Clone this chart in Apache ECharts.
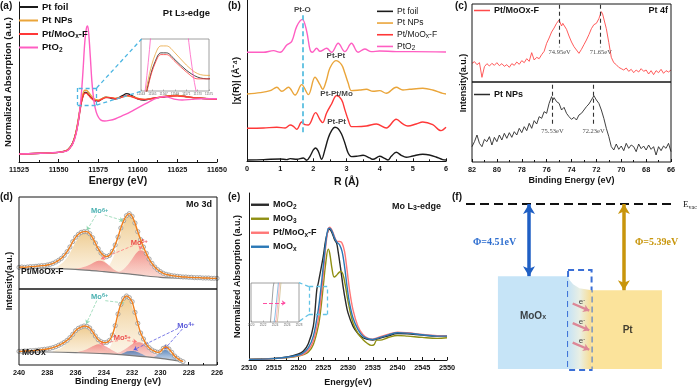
<!DOCTYPE html>
<html><head><meta charset="utf-8">
<script src="https://cdn.jsdelivr.net/npm/echarts@6/dist/echarts.min.js"></script>
<style>html,body{margin:0;padding:0;background:#fff}#c{width:700px;height:388px}</style>
</head><body><div id="c"></div>
<script>
const FONT = "'Liberation Sans', Arial, Helvetica, sans-serif";
const SERIF = "'Liberation Serif', 'Times New Roman', serif";

// ---------------- (a) Pt L3-edge XANES : [energy eV, normalized absorption] ----------------
const aPtFoil = [[11525,0.00],[11535,0.01],[11545,0.02],[11550,0.03],[11555,0.06],[11557,0.11],[11559,0.20],[11561,0.38],[11562.5,0.60],[11563.5,0.78],[11564.5,0.93],[11565.5,1.03],[11566.5,1.08],[11567.5,1.08],[11569,1.04],[11571,0.98],[11573,0.94],[11575,0.93],[11577,0.96],[11580,1.00],[11583,0.98],[11586,0.97],[11590,1.02],[11593,1.06],[11596,1.03],[11600,0.97],[11604,0.95],[11608,0.97],[11612,0.99],[11616,1.00],[11620,1.02],[11625,1.03],[11630,1.01],[11635,0.99],[11640,0.98],[11645,0.97],[11650,0.97]];
const aPtNPs = [[11525,0.00],[11535,0.01],[11545,0.02],[11550,0.03],[11555,0.06],[11557,0.11],[11559,0.20],[11561,0.39],[11562.5,0.62],[11563.5,0.80],[11564.5,0.96],[11565.5,1.07],[11566.5,1.12],[11567.5,1.12],[11569,1.08],[11571,1.01],[11573,0.96],[11575,0.95],[11577,0.97],[11580,1.00],[11583,0.99],[11586,0.98],[11590,1.00],[11593,1.02],[11596,1.01],[11600,0.98],[11604,0.96],[11608,0.97],[11612,0.99],[11616,1.01],[11620,1.02],[11625,1.03],[11630,1.01],[11635,0.99],[11640,0.98],[11645,0.97],[11650,0.97]];
const aPtMoOxF = [[11525,0.00],[11535,0.01],[11545,0.02],[11550,0.03],[11555,0.06],[11557,0.10],[11559,0.19],[11561,0.37],[11562.5,0.58],[11563.5,0.76],[11564.5,0.92],[11565.5,1.02],[11566.5,1.07],[11567.5,1.07],[11569,1.03],[11571,0.97],[11573,0.93],[11575,0.93],[11577,0.96],[11580,0.99],[11583,0.99],[11586,0.97],[11590,1.00],[11593,1.03],[11596,1.01],[11600,0.97],[11604,0.96],[11608,0.97],[11612,0.99],[11616,1.00],[11620,1.02],[11625,1.02],[11630,1.01],[11635,0.99],[11640,0.98],[11645,0.97],[11650,0.96]];
const aPtO2 = [[11525,0.00],[11535,0.01],[11545,0.02],[11550,0.03],[11555,0.05],[11557,0.10],[11559,0.18],[11561,0.35],[11562.5,0.58],[11563.5,0.80],[11564.5,1.10],[11565.5,1.50],[11566.5,1.95],[11567.5,2.20],[11568.3,2.25],[11569,2.12],[11570,1.72],[11571,1.28],[11572,1.00],[11573,0.82],[11574.5,0.68],[11576.5,0.60],[11579,0.58],[11582,0.59],[11586,0.62],[11590,0.67],[11594,0.72],[11598,0.78],[11602,0.84],[11606,0.90],[11610,0.96],[11614,1.00],[11617,1.01],[11620,0.99],[11624,0.96],[11628,0.95],[11634,0.96],[11640,0.97],[11645,0.97],[11650,0.97]];

// ---------------- (b) FT-EXAFS : [R Å, |chi(R)| offset] ----------------
const bPtFoil = [[0,0.4],[0.5,0.5],[1.0,0.7],[1.2,0.5],[1.3,0.8],[1.5,0.6],[1.7,1.0],[1.8,0.3],[1.9,1.5],[2.0,3.4],[2.07,4.0],[2.15,3.0],[2.25,0.6],[2.35,3.5],[2.45,7.0],[2.55,9.2],[2.65,10.2],[2.75,9.8],[2.85,8.2],[2.95,5.5],[3.05,2.5],[3.15,1.4],[3.3,1.5],[3.5,1.8],[3.7,1.0],[3.8,0.6],[4.0,1.5],[4.15,0.9],[4.25,0.4],[4.35,1.5],[4.5,2.7],[4.65,1.8],[4.8,1.2],[5.0,1.6],[5.3,2.1],[5.5,1.9],[5.7,1.3],[5.9,0.5],[6.0,0.4]];
const bPtNPs = [[0,20.2],[0.4,20.6],[0.7,21.2],[0.9,22.2],[1.05,21.0],[1.25,22.2],[1.45,19.9],[1.65,23.0],[1.85,20.0],[2.05,25.2],[2.2,23.0],[2.28,21.6],[2.4,24.5],[2.5,28.0],[2.68,30.2],[2.85,29.0],[2.95,26.5],[3.05,23.5],[3.15,21.2],[3.4,21.4],[3.6,21.6],[3.8,21.0],[4.0,21.2],[4.2,20.4],[4.5,22.2],[4.7,21.4],[4.9,21.6],[5.3,21.9],[5.6,21.4],[5.9,20.4],[6.0,20.2]];
const bPtMoOxF = [[0,9.9],[0.5,10.0],[0.9,10.2],[1.15,10.0],[1.3,10.9],[1.4,10.5],[1.5,9.6],[1.65,11.8],[1.75,11.0],[1.85,10.9],[2.07,14.6],[2.2,12.5],[2.28,11.6],[2.4,14.5],[2.55,17.2],[2.7,19.7],[2.85,18.5],[2.95,15.5],[3.05,12.5],[3.15,10.4],[3.3,10.4],[3.6,10.6],[3.9,11.2],[4.2,10.0],[4.5,12.6],[4.7,11.2],[4.85,10.6],[5.1,11.2],[5.3,11.8],[5.6,11.0],[5.85,9.2],[6.0,10.2]];
const bPtO2 = [[0,32.7],[0.5,32.7],[0.8,33.2],[1.0,32.7],[1.2,34.9],[1.35,36.0],[1.5,40.5],[1.67,42.6],[1.8,39.0],[1.9,33.5],[1.97,32.7],[2.1,33.9],[2.2,33.0],[2.4,33.9],[2.55,32.7],[2.75,35.4],[2.95,32.9],[3.15,35.4],[3.35,32.7],[3.55,33.7],[3.75,32.9],[4.0,33.1],[4.5,32.9],[5.0,32.9],[6.0,32.8]];
const bPeakLabels = [[1.67,45.4,'Pt-O'],[2.68,31.6,'Pt-Pt'],[2.70,20.4,'Pt-Pt/Mo'],[2.70,11.8,'Pt-Pt']];
const bPtOPosition = 1.67;

// ---------------- (c) Pt 4f XPS : [binding energy eV, counts a.u.] ----------------
const cPtMoOxF = [[82.0,56],[81.8,61],[81.6,52],[81.4,58],[81.2,14],[81.0,46],[80.8,55],[80.6,48],[80.4,56],[80.2,50],[80.0,58],[79.8,49],[79.6,55],[79.4,47],[79.2,52],[79.0,44],[78.8,55],[78.6,50],[78.4,60],[78.2,53],[78.0,64],[77.8,58],[77.6,70],[77.4,62],[77.2,88],[77.0,66],[76.8,74],[76.6,70],[76.4,82],[76.2,92],[76.0,116],[75.8,132],[75.6,150],[75.4,162],[75.2,176],[75.0,186],[74.9,180],[74.8,168],[74.7,176],[74.6,170],[74.4,158],[74.2,138],[74.0,120],[73.8,106],[73.6,96],[73.4,86],[73.2,98],[73.0,112],[72.8,126],[72.6,142],[72.4,160],[72.2,172],[72.0,176],[71.8,190],[71.6,211],[71.5,204],[71.4,200],[71.2,160],[71.0,118],[70.8,74],[70.6,58],[70.4,52],[70.2,44],[70.0,40],[69.8,36],[69.6,42],[69.4,32],[69.2,38],[69.0,28],[68.8,36],[68.6,30],[68.4,40],[68.2,32],[68.0,36],[67.8,24],[67.6,34],[67.4,22],[67.2,34],[67.0,28],[66.8,38],[66.6,26],[66.4,34],[66.2,30],[66.0,36]];
const cPtNPs = [[82.0,46],[81.8,61],[81.6,81],[81.4,56],[81.2,46],[81.0,68],[80.8,61],[80.6,76],[80.4,51],[80.2,74],[80.0,61],[79.8,81],[79.6,66],[79.4,86],[79.2,71],[79.0,88],[78.8,74],[78.6,91],[78.4,81],[78.2,101],[78.0,88],[77.8,106],[77.6,94],[77.4,116],[77.2,101],[77.0,124],[76.8,114],[76.6,136],[76.4,131],[76.2,151],[76.0,146],[75.8,176],[75.6,196],[75.5,186],[75.4,193],[75.2,181],[75.0,176],[74.8,156],[74.6,164],[74.4,146],[74.2,136],[74.0,128],[73.8,134],[73.6,126],[73.4,141],[73.2,146],[73.0,156],[72.8,166],[72.6,174],[72.4,186],[72.2,199],[72.0,186],[71.8,176],[71.6,156],[71.4,131],[71.2,101],[71.0,76],[70.8,46],[70.6,36],[70.4,54],[70.2,38],[70.0,48],[69.8,34],[69.6,56],[69.4,41],[69.2,51],[69.0,46],[68.8,31],[68.6,54],[68.4,40],[68.2,48],[68.0,36],[67.8,51],[67.6,38],[67.4,46],[67.2,21],[67.0,46],[66.8,34],[66.6,48],[66.4,41],[66.2,56],[66.0,31]];
const cPeaksTop = [74.95, 71.65];
const cPeaksBottom = [75.53, 72.23];

// ---------------- (d) Mo 3d XPS : [binding energy eV, counts a.u.] ----------------
const dTopExp = [[240.0,65],[239.8,66],[239.6,65],[239.4,66],[239.2,67],[239.0,67],[238.8,68],[238.6,69],[238.4,70],[238.2,70],[238.0,72],[237.8,74],[237.6,77],[237.4,81],[237.2,86],[237.0,92],[236.8,101],[236.6,112],[236.4,126],[236.2,142],[236.0,155],[235.8,164],[235.6,170],[235.4,172],[235.2,172],[235.0,166],[234.8,154],[234.6,138],[234.4,121],[234.2,108],[234.0,100],[233.8,97],[233.6,101],[233.4,113],[233.2,132],[233.0,156],[232.8,183],[232.6,205],[232.4,220],[232.2,226],[232.0,218],[231.8,198],[231.6,172],[231.4,148],[231.2,126],[231.0,107],[230.8,90],[230.6,77],[230.4,66],[230.2,58],[230.0,52],[229.8,47],[229.6,44],[229.4,42],[229.2,40],[229.0,39],[228.8,38],[228.6,37],[228.4,36],[228.2,36],[228.0,35],[227.8,35],[227.6,34],[227.4,34],[227.2,34],[227.0,33],[226.8,33],[226.6,33],[226.4,32],[226.2,32],[226.0,32]];
const dTopBg = [[240,64],[238,62],[236,59],[235,56],[234,52],[233,48],[232,44],[231,39],[230,35],[229,33],[228,32],[227,32],[226,31]];
const dTopMo6a = [[237.6,62],[237.2,70],[236.8,84],[236.4,108],[236.0,140],[235.7,160],[235.4,169],[235.2,170],[234.9,160],[234.6,136],[234.2,102],[233.8,76],[233.4,60],[233.0,52],[232.6,46]];
const dTopMo6b = [[234.4,52],[234.0,56],[233.6,72],[233.2,110],[232.9,155],[232.6,196],[232.4,214],[232.2,221],[232.0,214],[231.7,186],[231.4,144],[231.0,98],[230.6,66],[230.2,48],[229.8,40],[229.4,36]];
const dTopMo5a = [[236.2,60],[235.6,64],[235.0,73],[234.6,82],[234.3,85],[234.0,82],[233.6,70],[233.2,56],[232.8,49]];
const dTopMo5b = [[233.4,48],[232.8,54],[232.4,68],[232.0,90],[231.7,108],[231.4,116],[231.1,110],[230.8,92],[230.4,64],[230.0,45],[229.6,37]];
const dLowExp = [[240.0,41],[239.8,41],[239.6,42],[239.4,42],[239.2,43],[239.0,43],[238.8,44],[238.6,45],[238.4,46],[238.2,47],[238.0,48],[237.8,50],[237.6,52],[237.4,55],[237.2,59],[237.0,63],[236.8,68],[236.6,74],[236.4,82],[236.2,92],[236.0,103],[235.8,110],[235.6,114],[235.4,117],[235.2,116],[235.0,111],[234.8,100],[234.6,87],[234.4,76],[234.2,70],[234.0,67],[233.8,68],[233.6,74],[233.4,90],[233.2,118],[233.0,153],[232.8,182],[232.6,200],[232.4,207],[232.2,202],[232.0,190],[231.8,158],[231.6,125],[231.4,96],[231.2,78],[231.0,62],[230.8,52],[230.6,45],[230.4,41],[230.2,38],[230.0,40],[229.8,50],[229.6,54],[229.4,48],[229.2,38],[229.0,27],[228.8,20],[228.6,14],[228.4,10]];
const dLowBg = [[240,40],[238,39],[236,37],[234,34],[232,28],[230,20],[229,14],[228.4,10]];
const dLowMo6a = [[237.6,42],[237.0,52],[236.6,66],[236.2,86],[235.8,104],[235.4,112],[235.0,104],[234.6,80],[234.2,58],[233.8,44],[233.4,37],[233.0,33]];
const dLowMo6b = [[234.0,35],[233.6,50],[233.2,100],[232.9,158],[232.6,194],[232.4,204],[232.2,197],[231.9,162],[231.6,114],[231.3,74],[231.0,50],[230.6,33],[230.2,25]];
const dLowMo5a = [[236.0,38],[235.4,44],[235.0,52],[234.6,60],[234.4,62],[234.1,60],[233.7,52],[233.3,42],[233.0,35]];
const dLowMo5b = [[233.2,34],[232.8,40],[232.4,50],[232.0,62],[231.6,68],[231.2,64],[230.8,50],[230.4,34],[230.0,24]];
const dLowMo4a = [[233.0,30],[232.6,36],[232.3,41],[232.0,42],[231.7,40],[231.3,33],[231.0,26]];
const dLowMo4b = [[230.6,22],[230.3,28],[230.0,36],[229.8,43],[229.7,45],[229.5,43],[229.3,35],[229.0,24],[228.8,17]];

// ---------------- (e) Mo L3-edge XANES : [energy eV, normalized absorption] ----------------
const eMoO2 = [[2510,0.02],[2515,0.05],[2518,0.10],[2520,0.18],[2521,0.27],[2522,0.50],[2523,1.02],[2523.7,2.12],[2524,2.32],[2525,3.12],[2525.5,3.62],[2526,3.90],[2526.3,3.94],[2526.8,3.82],[2527.3,3.62],[2527.7,3.52],[2528,3.27],[2528.5,2.77],[2529,2.22],[2529.5,1.77],[2530,1.42],[2531,1.02],[2532,0.80],[2533,0.67],[2534,0.62],[2535,0.60],[2536,0.64],[2538,0.72],[2540,0.80],[2542,0.79],[2545,0.75],[2548,0.72],[2550,0.72]];
const eMoO3 = [[2510,0.02],[2515,0.04],[2518,0.07],[2520,0.12],[2521,0.16],[2522,0.24],[2523,0.47],[2524,1.02],[2524.5,1.52],[2525,2.22],[2525.5,2.92],[2526,3.34],[2526.3,3.22],[2526.8,2.72],[2527.2,2.50],[2527.6,2.54],[2528.2,2.64],[2528.6,2.67],[2529,2.57],[2529.5,2.22],[2530,1.77],[2531,1.12],[2532,0.80],[2533,0.62],[2534,0.49],[2534.7,0.44],[2535.3,0.47],[2535.8,0.60],[2536.5,0.60],[2538,0.67],[2540,0.74],[2542,0.72],[2545,0.68],[2548,0.65],[2550,0.67]];
const ePtMoOxF = [[2510,0.02],[2515,0.04],[2518,0.08],[2520,0.13],[2521,0.18],[2522,0.30],[2523,0.57],[2524,1.22],[2524.5,1.82],[2525,2.57],[2525.5,3.42],[2526,3.94],[2526.3,4.00],[2526.8,3.90],[2527.3,3.70],[2527.8,3.57],[2528.3,3.57],[2528.8,3.52],[2529.3,3.27],[2529.8,2.72],[2530.3,2.12],[2531,1.52],[2532,1.02],[2533,0.77],[2534,0.66],[2535,0.63],[2536,0.67],[2538,0.77],[2540,0.84],[2542,0.82],[2545,0.77],[2548,0.73],[2550,0.72]];
const eMoOx = [[2510,0.02],[2515,0.04],[2518,0.09],[2520,0.15],[2521,0.22],[2522,0.37],[2523,0.72],[2524,1.52],[2524.5,2.12],[2525,2.82],[2525.5,3.52],[2526,3.96],[2526.3,3.97],[2526.8,3.87],[2527.3,3.67],[2527.8,3.54],[2528.3,3.47],[2528.8,3.27],[2529.3,2.82],[2529.8,2.22],[2530.3,1.72],[2531,1.27],[2532,0.92],[2533,0.72],[2534,0.64],[2535,0.62],[2536,0.66],[2538,0.75],[2540,0.82],[2542,0.81],[2545,0.76],[2548,0.72],[2550,0.72]];

// ---------------- (f) band diagram : work functions (eV below vacuum level) ----------------
const fMaterials = ['MoOx', 'Pt'];
const fWorkFunction = [4.51, 5.39];
const fBandBottom = -10.31;
const fInterfaceShape = [[4.86,-4.51],[4.93,-4.75],[5.1,-5.02],[5.4,-5.26],[5.98,-5.39],[5.98,-10.31],[4.86,-10.31]];
const fElectrons = [[5.52,-6.12],[5.52,-7.34],[5.52,-8.56]];

// ======================= helpers =======================
const BLACK = '#141414';
const plainNum = v => String(v);
function xAx(gi, min, max, interval, name, gap, size, extra) {
  return Object.assign({
    type: 'value', gridIndex: gi, min, max, interval,
    name, nameLocation: 'middle', nameGap: gap,
    nameTextStyle: {fontFamily: FONT, fontWeight: 'bold', fontSize: size, color: BLACK},
    axisLine: {show: true, onZero: false, lineStyle: {color: BLACK, width: 1}},
    axisTick: {show: true, inside: true, length: 3, lineStyle: {color: BLACK}},
    minorTick: {show: true, splitNumber: 2, length: 2, lineStyle: {color: BLACK}},
    axisLabel: {show: true, fontFamily: FONT, fontWeight: 'bold', fontSize: 7.3, color: BLACK, margin: 4, formatter: plainNum},
    splitLine: {show: false}
  }, extra || {});
}
function yAx(gi, min, max, name, gap, size, extra) {
  return Object.assign({
    type: 'value', gridIndex: gi, min, max,
    name, nameLocation: 'middle', nameGap: gap,
    nameTextStyle: {fontFamily: FONT, fontWeight: 'bold', fontSize: size, color: BLACK},
    axisLine: {show: true, onZero: false, lineStyle: {color: BLACK, width: 1}},
    axisTick: {show: false}, axisLabel: {show: false}, splitLine: {show: false}
  }, extra || {});
}
function hiddenAx(gi, min, max, extra) {
  return Object.assign({type: 'value', gridIndex: gi, min, max, show: false, splitLine: {show: false}}, extra || {});
}
function mkLine(name, gi, data, color, width, extra) {
  return Object.assign({
    type: 'line', name, xAxisIndex: gi, yAxisIndex: gi, data,
    symbol: 'none', showSymbol: false, smooth: 0.35,
    lineStyle: {color, width}, itemStyle: {color},
    emphasis: {disabled: true}, animation: false, silent: true
  }, extra || {});
}
function seg(p, q) { return [{coord: p}, {coord: q}]; }
function boxSegs(x0, x1, y0, y1) {
  return [seg([x0,y0],[x1,y0]), seg([x1,y0],[x1,y1]), seg([x1,y1],[x0,y1]), seg([x0,y1],[x0,y0])];
}
function textSeries(gi, items, z) {
  return {
    type: 'scatter', xAxisIndex: gi, yAxisIndex: gi, symbolSize: 0.1, silent: true, animation: false, z: z || 8,
    itemStyle: {color: 'rgba(0,0,0,0)'},
    data: items.map(it => ({value: [it[0], it[1]], label: Object.assign({show: true, position: 'inside', formatter: it[2]}, it[3] || {})})),
    label: {show: true, fontFamily: FONT, fontWeight: 'bold', fontSize: 8, color: BLACK}
  };
}
const SUB = {fontFamily: FONT, fontWeight: 'bold', fontSize: 6.5, verticalAlign: 'bottom', lineHeight: 8, color: BLACK};
const SUBN = Object.assign({}, SUB, {fontWeight: 'normal'});
const SUP = {fontFamily: FONT, fontWeight: 'bold', fontSize: 5.5, verticalAlign: 'top', lineHeight: 8};

const LBL = {
  'a_Pt foil': 'Pt foil', 'a_Pt NPs': 'Pt NPs', 'a_Pt/MoOx-F': 'Pt/MoO{s|x}-F', 'a_PtO2': 'PtO{s|2}',
  'b_Pt foil': 'Pt foil', 'b_Pt NPs': 'Pt NPs', 'b_Pt/MoOx-F': 'Pt/MoO{s|x}-F', 'b_PtO2': 'PtO{s|2}',
  'c_Pt/MoOx-F': 'Pt/MoOx-F', 'c_Pt NPs': 'Pt NPs',
  'e_MoO2': 'MoO{s|2}', 'e_MoO3': 'MoO{s|3}', 'e_Pt/MoOx-F': 'Pt/MoO{s|x}-F', 'e_MoOx': 'MoO{s|x}'
};
const fmt = n => LBL[n];

// colors
const C_FOIL = '#1b1b1b', C_NPS = '#eaa53a', C_PTMO = '#ff3838', C_PTO2 = '#ff5ec2';
const C_MOO2 = '#2a2a2a', C_MOO3 = '#8f8f12', C_EPTMO = '#ff7777', C_MOOX = '#2a78b6';

const grids = [
  {left: 19, top: 2, width: 198, height: 160},           // 0 a
  {left: 141, top: 39, width: 68, height: 52, show: true, borderColor: '#888', borderWidth: 0.8, backgroundColor: '#fff', z: 0}, // 1 a inset
  {left: 247, top: 0, width: 199, height: 161.3},        // 2 b
  {left: 472, top: 4, width: 199, height: 78, show: true, borderColor: BLACK, borderWidth: 1, z: 10},   // 3 c top
  {left: 472, top: 82, width: 199, height: 80, show: true, borderColor: BLACK, borderWidth: 1, z: 10},  // 4 c bottom
  {left: 19, top: 197, width: 198, height: 92, show: true, borderColor: BLACK, borderWidth: 1, z: 10},  // 5 d top
  {left: 19, top: 289, width: 198, height: 76, show: true, borderColor: BLACK, borderWidth: 1, z: 10},  // 6 d bottom
  {left: 249, top: 193, width: 198, height: 167.7},      // 7 e
  {left: 251, top: 283, width: 48, height: 39, show: true, borderColor: '#888', borderWidth: 0.8, backgroundColor: '#fff', z: 0}, // 8 e inset
  {left: 466, top: 190, width: 210, height: 190},        // 9 f
  {left: 472, top: 4, width: 199, height: 158},          // 10 c name holder
  {left: 19, top: 197, width: 198, height: 168}          // 11 d name holder
];

const insetLabel = {show: true, fontSize: 3, color: '#666', margin: 1.5, fontWeight: 'normal', formatter: plainNum};
const insetTick = {show: true, inside: true, length: 1.5, lineStyle: {color: '#888', width: 0.6}};
const xAxes = [
  xAx(0, 11525, 11650, 25, 'Energy (eV)', 14, 10.5),
  xAx(1, 11563, 11575, 2, '', 0, 5, {axisLine: {show: false}, axisTick: insetTick, minorTick: {show: false}, axisLabel: insetLabel}),
  xAx(2, 0, 6, 1, 'R (Å)', 15, 10.5),
  hiddenAx(3, 66, 82, {inverse: true}),
  xAx(4, 66, 82, 2, 'Binding Energy (eV)', 14, 9, {inverse: true, axisLine: {show: false}}),
  hiddenAx(5, 226, 240, {inverse: true}),
  xAx(6, 226, 240, 2, 'Binding Energy (eV)', 12, 9, {inverse: true, axisLine: {show: false}}),
  xAx(7, 2510, 2550, 5, 'Energy(eV)', 18, 9),
  xAx(8, 2520, 2528, 2, '', 0, 5, {axisLine: {show: false}, axisTick: insetTick, minorTick: {show: false}, axisLabel: insetLabel}),
  hiddenAx(9, 0, 10),
  hiddenAx(10, 0, 1),
  hiddenAx(11, 0, 1)
];
const yAxes = [
  yAx(0, -0.14, 2.67, 'Normalized Absorption (a.u.)', 6, 9.5),
  hiddenAx(1, 0.86, 1.16),
  yAx(2, 0, 48.4, '|χ(R)| (Å⁻⁴)', 6, 9.5),
  hiddenAx(3, 0, 234),
  hiddenAx(4, 0, 240),
  hiddenAx(5, 0, 276),
  hiddenAx(6, 0, 228),
  yAx(7, 0, 5.03, 'Normalized Absorption (a.u.)', 7, 9),
  hiddenAx(8, 1.4, 2.2),
  hiddenAx(9, -11, 0.875),
  yAx(10, 0, 1, 'Intensity(a.u.)', 4, 9, {axisLine: {show: false}}),
  yAx(11, 0, 1, 'Intensity(a.u.)', 5, 9, {axisLine: {show: false}})
];

const series = [];
// ---- (a)
const cyan = '#4cb6e2';
series.push(mkLine('a_Pt foil', 0, aPtFoil, C_FOIL, 1.4));
series.push(mkLine('a_Pt NPs', 0, aPtNPs, C_NPS, 1.4));
series.push(mkLine('a_Pt/MoOx-F', 0, aPtMoOxF, C_PTMO, 1.4));
series.push(mkLine('a_PtO2', 0, aPtO2, C_PTO2, 1.4, {
  markLine: {silent: true, symbol: 'none', label: {show: false}, animation: false,
    lineStyle: {color: cyan, type: [4, 3], width: 1.3},
    data: boxSegs(11562, 11574, 0.86, 1.16).concat([seg([11574,1.16],[11602.4,2.02]), seg([11574,0.86],[11602.4,1.105])])}
}));
series.push(mkLine('ai_foil', 1, aPtFoil, C_FOIL, 0.8, {z: 3}));
series.push(mkLine('ai_nps', 1, aPtNPs, C_NPS, 0.8, {z: 3}));
series.push(mkLine('ai_ptmo', 1, aPtMoOxF, C_PTMO, 0.8, {z: 3}));
series.push(mkLine('ai_pto2', 1, aPtO2, C_PTO2, 0.8, {z: 3}));

// ---- (b)
series.push(mkLine('b_Pt foil', 2, bPtFoil, C_FOIL, 1.4));
series.push(mkLine('b_Pt NPs', 2, bPtNPs, C_NPS, 1.4));
series.push(mkLine('b_Pt/MoOx-F', 2, bPtMoOxF, C_PTMO, 1.4));
series.push(mkLine('b_PtO2', 2, bPtO2, C_PTO2, 1.4, {
  markLine: {silent: true, symbol: 'none', label: {show: false}, animation: false,
    lineStyle: {color: '#5bbfe0', type: [5, 3], width: 1.8},
    data: [seg([bPtOPosition, 43.8],[bPtOPosition, 8.6])]}
}));
series.push(textSeries(2, bPeakLabels.map(p => [p[0], p[1], p[2]]), 8));

// ---- (c)
series.push(mkLine('c_Pt/MoOx-F', 3, cPtMoOxF, '#ff4a4a', 0.9, {smooth: false,
  markLine: {silent: true, symbol: 'none', label: {show: false}, animation: false,
    lineStyle: {color: '#333', type: [4, 3], width: 1.1},
    data: cPeaksTop.map(v => seg([v, 232],[v, 104]))}
}));
series.push(mkLine('c_Pt NPs', 4, cPtNPs, '#2b2b2b', 0.9, {smooth: false,
  markLine: {silent: true, symbol: 'none', label: {show: false}, animation: false,
    lineStyle: {color: '#333', type: [4, 3], width: 1.1},
    data: cPeaksBottom.map(v => seg([v, 232],[v, 108]))}
}));
const serifLbl = {fontFamily: SERIF, fontWeight: 'normal', fontSize: 6.5, color: BLACK};
series.push(textSeries(3, cPeaksTop.map(v => [v, 89, v.toFixed(2) + 'eV', serifLbl])));
series.push(textSeries(4, cPeaksBottom.map(v => [v, 92, v.toFixed(2) + 'eV', serifLbl])));

// ---- (d)
function grad(c0, c1) { return new echarts.graphic.LinearGradient(0, 0, 0, 1, [{offset: 0, color: c0}, {offset: 1, color: c1}]); }
const TAN = () => grad('rgba(236,196,128,0.85)', 'rgba(250,236,212,0.35)');
const RED = () => grad('rgba(240,120,120,0.75)', 'rgba(252,215,215,0.35)');
const BLU = () => grad('rgba(72,122,182,0.85)', 'rgba(190,208,232,0.45)');
function comp(gi, data, fill) {
  return {type: 'line', xAxisIndex: gi, yAxisIndex: gi, data, symbol: 'none', smooth: 0.4, silent: true, animation: false,
    lineStyle: {width: 0}, areaStyle: {color: fill, opacity: 1}, z: 2};
}
function bgSeries(gi, data, arrows) {
  return {type: 'line', xAxisIndex: gi, yAxisIndex: gi, data, symbol: 'none', smooth: 0.3, silent: true, animation: false,
    lineStyle: {color: '#7a7a7a', width: 1.1}, areaStyle: {color: '#ffffff', opacity: 1}, z: 3,
    markLine: {silent: true, animation: false, symbol: ['none', 'arrow'], symbolSize: 4, label: {show: false}, data: arrows}};
}
function expSeries(gi, data) {
  return [
    {type: 'scatter', xAxisIndex: gi, yAxisIndex: gi, data, symbol: 'circle', symbolSize: 4.2, silent: true, animation: false,
      itemStyle: {color: '#f4f4f4', borderColor: '#8c8c8c', borderWidth: 0.9}, z: 4},
    {type: 'line', xAxisIndex: gi, yAxisIndex: gi, data, symbol: 'none', smooth: 0.3, silent: true, animation: false,
      lineStyle: {color: '#f07f1c', width: 1.4}, z: 5}
  ];
}
function arrow(p, q, color) { return [{coord: p, lineStyle: {color, width: 0.8}}, {coord: q}]; }
const TEAL = '#1a9c9c', TEALL = '#8fd6b0', REDT = '#e8262a', REDL = '#ff7a7a', BLUT = '#3131d0';
series.push(comp(5, dTopMo6a, TAN()), comp(5, dTopMo6b, TAN()), comp(5, dTopMo5a, RED()), comp(5, dTopMo5b, RED()));
series.push(bgSeries(5, dTopBg, [
  arrow([234.55, 222],[235.2, 176], TEALL), arrow([233.95, 222],[232.62, 205], TEALL),
  arrow([231.95, 130],[234.2, 90], REDL), arrow([231.4, 127],[231.45, 118], REDL)
]));
series.push(...expSeries(5, dTopExp));
series.push(textSeries(5, [
  [234.3, 234, 'Mo{sup|6+}', {color: TEAL, fontSize: 7.5, rich: {sup: Object.assign({}, SUP, {color: TEAL})}}],
  [231.5, 139, 'Mo{sup|5+}', {color: REDT, fontSize: 7.5, rich: {sup: Object.assign({}, SUP, {color: REDT})}}]
]));
series.push(comp(6, dLowMo6a, TAN()), comp(6, dLowMo6b, TAN()), comp(6, dLowMo5a, RED()), comp(6, dLowMo5b, RED()), comp(6, dLowMo4a, BLU()), comp(6, dLowMo4b, BLU()));
series.push(bgSeries(6, dLowBg, [
  arrow([234.5, 193],[235.25, 123], TEALL), arrow([233.9, 193],[232.55, 186], TEALL),
  arrow([233.0, 73],[234.3, 64], REDL), arrow([232.35, 73],[231.65, 70], REDL),
  arrow([228.75, 110],[231.9, 45], '#5a5ae0'), arrow([228.45, 108],[229.7, 48], '#5a5ae0')
]));
series.push(...expSeries(6, dLowExp));
series.push(textSeries(6, [
  [234.3, 205, 'Mo{sup|6+}', {color: TEAL, fontSize: 7.5, rich: {sup: Object.assign({}, SUP, {color: TEAL})}}],
  [232.7, 80, 'Mo{sup|5+}', {color: REDT, fontSize: 7.5, rich: {sup: Object.assign({}, SUP, {color: REDT})}}],
  [228.2, 118, 'Mo{sup|4+}', {color: BLUT, fontSize: 7.5, rich: {sup: Object.assign({}, SUP, {color: BLUT})}}]
]));

// ---- (e)
series.push(mkLine('e_MoO2', 7, eMoO2, C_MOO2, 1.4));
series.push(mkLine('e_MoO3', 7, eMoO3, C_MOO3, 1.4));
series.push(mkLine('e_Pt/MoOx-F', 7, ePtMoOxF, C_EPTMO, 1.4));
series.push(mkLine('e_MoOx', 7, eMoOx, C_MOOX, 1.4, {
  markLine: {silent: true, symbol: 'none', label: {show: false}, animation: false,
    lineStyle: {color: '#62c3e6', type: [4, 3], width: 1.3},
    data: boxSegs(2522.1, 2525.8, 1.37, 2.21).concat([seg([2522.1, 2.21],[2520.1, 2.33]), seg([2522.1, 1.37],[2520.1, 1.16])])}
}));
series.push(mkLine('ei_moo2', 8, eMoO2, '#777', 0.7, {smooth: false, z: 3}));
series.push(mkLine('ei_moo3', 8, eMoO3, '#c9b27a', 0.7, {smooth: false, z: 3}));
series.push(mkLine('ei_ptmo', 8, ePtMoOxF, '#ff9a9a', 0.7, {smooth: false, z: 3}));
series.push(mkLine('ei_moox', 8, eMoOx, '#5aa0d8', 0.7, {smooth: false, z: 3,
  markLine: {silent: true, symbol: ['none', 'arrow'], symbolSize: 4, label: {show: false}, animation: false,
    lineStyle: {color: '#ff4fa3', width: 1}, data: [seg([2522, 1.79],[2525.8, 1.79])]}
}));

// ---- (f)
series.push({
  type: 'custom', xAxisIndex: 9, yAxisIndex: 9, data: [0], silent: true, animation: false, z: 2,
  renderItem: (params, api) => ({
    type: 'polygon', shape: {points: fInterfaceShape.map(p => api.coord(p))},
    style: {fill: new echarts.graphic.LinearGradient(0, 0, 1, 0, [
      {offset: 0, color: '#c6e3f6'}, {offset: 0.5, color: '#e9efe4'}, {offset: 1, color: '#f9dc8e'}])}
  })
});
series.push({
  type: 'line', xAxisIndex: 9, yAxisIndex: 9, data: [[0, 0], [10, 0]], symbol: 'none', silent: true, animation: false, z: 3,
  lineStyle: {color: '#111', width: 2.2, type: [9, 5]},
  markArea: {silent: true, animation: false, data: [
    [{coord: [1.52, -fWorkFunction[0]], itemStyle: {color: '#c6e4f7'}}, {coord: [4.86, fBandBottom]}],
    [{coord: [5.98, -fWorkFunction[1]], itemStyle: {color: '#fbe39b'}}, {coord: [9.33, fBandBottom]}]
  ]},
  markLine: {silent: true, animation: false, symbol: ['arrow', 'arrow'], symbolSize: [9, 10], label: {show: false}, data: [
    [{coord: [3.0, 0], lineStyle: {color: '#1f5fc4', width: 3.5, type: 'solid'}}, {coord: [3.0, -fWorkFunction[0]]}],
    [{coord: [7.52, 0], lineStyle: {color: '#c8950c', width: 3.5, type: 'solid'}}, {coord: [7.52, -fWorkFunction[1]]}]
  ]}
});
series.push({
  type: 'line', xAxisIndex: 9, yAxisIndex: 9, data: [], symbol: 'none', silent: true, animation: false, z: 6,
  markArea: {silent: true, animation: false, data: [
    [{coord: [4.86, -4.12], itemStyle: {color: 'rgba(0,0,0,0)', borderColor: '#3a6fd6', borderWidth: 2, borderType: [6, 4]}}, {coord: [5.98, -10.37]}]
  ]},
  markLine: {silent: true, animation: false, symbol: ['none', 'arrow'], symbolSize: 6, label: {show: false},
    data: fElectrons.map(e => [{coord: [e[0] - 0.44, e[1] - 0.1], lineStyle: {color: '#dd8797', width: 2.4, curveness: 0.35, type: 'solid'}}, {coord: [e[0] + 0.35, e[1] - 0.55]}])}
});
series.push(textSeries(9, fElectrons.map(e => [e[0], e[1], 'e{sup|-}', {fontWeight: 'normal', fontSize: 8, rich: {sup: Object.assign({}, SUP, {fontWeight: 'normal', color: BLACK})}}]), 9));
series.push(textSeries(9, [
  [3.19, -7.0, 'MoO{s|x}', {fontSize: 10, rich: {s: Object.assign({}, SUB, {fontSize: 7})}}],
  [7.7, -7.9, fMaterials[1], {fontSize: 10}]
], 9));

// ---------------- legends ----------------
function legend(left, top, names, size, weight, gap, iw, ih, lh) {
  return {left, top, orient: 'vertical', itemGap: gap, itemWidth: iw, itemHeight: ih, icon: 'rect',
    selectedMode: false, data: names, formatter: fmt, padding: 0,
    textStyle: {fontFamily: FONT, fontWeight: weight, fontSize: size, color: BLACK, lineHeight: lh, padding: [0, 0, 0, -1],
      rich: {s: weight === 'bold' ? SUB : SUBN}}};
}
const legends = [
  legend(19, 1, ['a_Pt foil', 'a_Pt NPs', 'a_Pt/MoOx-F', 'a_PtO2'], 9.5, 'bold', 1.5, 19, 2, 12),
  legend(377, 6, ['b_Pt foil', 'b_Pt NPs', 'b_Pt/MoOx-F', 'b_PtO2'], 8.5, 'normal', 1, 16, 1.6, 10.7),
  legend(474, 5, ['c_Pt/MoOx-F'], 9, 'bold', 0, 16, 1.5, 11),
  legend(474, 89, ['c_Pt NPs'], 9, 'bold', 0, 16, 1.5, 11),
  legend(251, 199, ['e_MoO2', 'e_MoO3', 'e_Pt/MoOx-F', 'e_MoOx'], 9, 'bold', 2.5, 18, 2.4, 11.5)
];

// ---------------- free texts ----------------
function txt(x, y, text, font, fill, align, rich) {
  return {type: 'text', x, y, silent: true, z: 100,
    style: {text, font, fill: fill || BLACK, align: align || 'left', verticalAlign: 'middle', textAlign: align || 'left', textVerticalAlign: 'middle', rich: rich || {}}};
}
const B10 = 'bold 10px ' + FONT;
const subRich = {s: {font: 'bold 7px ' + FONT, verticalAlign: 'bottom', lineHeight: 9, padding: [4, 0, 0, 0]}};
const graphic = [
  txt(0, 6, '(a)', B10), txt(228, 6, '(b)', B10), txt(455, 6, '(c)', B10),
  txt(0, 197, '(d)', B10), txt(228, 197, '(e)', B10), txt(452, 197, '(f)', B10),
  txt(210, 13, 'Pt L{s|3}-edge', 'bold 9.5px ' + FONT, BLACK, 'right', subRich),
  txt(668, 11, 'Pt 4f', 'bold 9px ' + FONT, BLACK, 'right'),
  txt(212, 205, 'Mo 3d', 'bold 9px ' + FONT, BLACK, 'right'),
  txt(21, 272, 'Pt/MoOx-F', 'bold 8.5px ' + FONT),
  txt(22, 353, 'MoOx', 'bold 8.5px ' + FONT),
  txt(441, 207, 'Mo L{s|3}-edge', 'bold 9px ' + FONT, BLACK, 'right', subRich),
  txt(473, 242, 'Φ=' + fWorkFunction[0].toFixed(2) + 'eV', 'bold 10px ' + SERIF, '#2f6fd0'),
  txt(635, 242, 'Φ=' + fWorkFunction[1].toFixed(2) + 'eV', 'bold 10px ' + SERIF, '#c8960c'),
  txt(683, 205, 'E{v|vac}', '9px ' + SERIF, BLACK, 'left', {v: {font: '6px ' + SERIF, verticalAlign: 'bottom', padding: [4, 0, 0, 0]}})
];

const chart = echarts.init(document.getElementById('c'), null, {renderer: 'canvas'});
chart.setOption({
  animation: false,
  backgroundColor: '#fff',
  textStyle: {fontFamily: FONT},
  grid: grids, xAxis: xAxes, yAxis: yAxes,
  legend: legends, series, graphic
});
</script></body></html>
